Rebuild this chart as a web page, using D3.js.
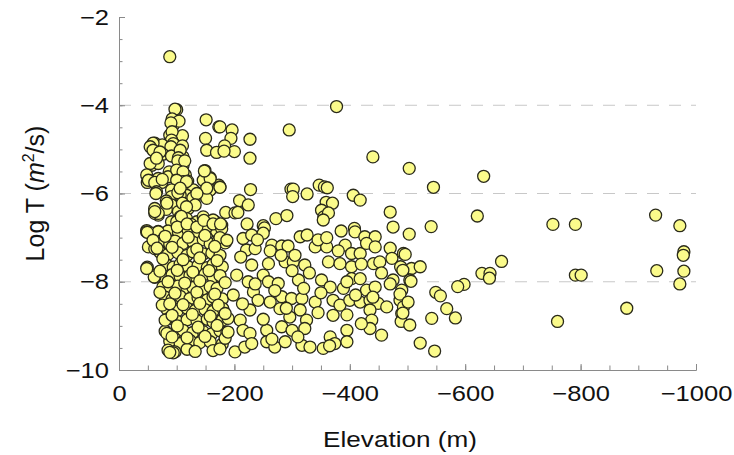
<!DOCTYPE html>
<html>
<head>
<meta charset="utf-8">
<script src="https://cdn.jsdelivr.net/npm/d3@7"></script>
<style>
  body { margin: 0; background: #fff; }
  text { font-family: "Liberation Sans", Arial, Helvetica, sans-serif; fill: #111; }
  .axis path, .axis line { stroke: #8a8a8a; }
  .grid line { stroke: #c8c8c8; stroke-dasharray: 12 10; }
  .dot { fill: #fbfb8b; stroke: #2a2a1a; stroke-width: 1.3; }
</style>
</head>
<body>
<div id="plot"></div>
<script>
// [elevation (m), log T (m2/s)]
const shallowUpper = [
  [-88,-2.90],[-100,-4.10],[-97,-4.09],[-92,-4.31],[-94,-4.45],[-104,-4.36],[-90,-4.40],
  [-88,-4.68],[-110,-4.69],[-92,-4.60],[-91,-4.79],[-94,-4.87],
  [-151,-4.33],[-173,-4.49],[-196,-4.56],[-194,-4.75],[-183,-4.92],[-200,-5.05],[-227,-4.77],[-227,-5.20],[-175,-4.49],
  [-150,-4.75],[-152,-5.02],[-169,-5.07],[-182,-5.04],
  [-62,-4.86],[-75,-4.90],[-90,-4.94],[-110,-4.92],[-59,-4.86],[-54,-4.94],
  [-59,-5.02],[-76,-5.11],[-91,-5.15],[-111,-5.17],[-71,-5.06],[-106,-5.02],
  [-57,-5.36],[-68,-5.32],[-87,-5.51],[-103,-5.19],[-109,-5.27],[-111,-5.36],[-54,-5.32],[-65,-5.20],[-102,-5.26],[-114,-5.26],
  [-48,-5.58],[-57,-5.72],[-49,-5.75],[-68,-5.66],[-74,-5.75],[-85,-5.62],[-102,-5.62],[-115,-5.58],
  [-100,-5.47],[-111,-5.51],[-111,-5.73],[-119,-5.72],[-117,-5.88],[-51,-5.70],[-62,-5.75],[-75,-5.68],
  [-132,-5.96],[-137,-6.02],[-149,-5.48],[-158,-5.64],[-173,-5.81],[-158,-5.92],[-152,-6.11],
  [-146,-5.70],[-158,-5.66],[-175,-5.85],[-152,-5.88],[-148,-5.49],[-129,-5.92],[-100,-5.70],[-117,-5.73],
  [-91,-5.92],[-91,-6.07],[-65,-5.96],[-117,-6.04],[-106,-6.04],[-64,-6.00],[-128,-6.10],[-102,-5.98],[-106,-5.88],[-135,-6.00],
  [-91,-6.26],[-103,-6.41],[-120,-6.34],[-132,-6.26],[-82,-6.17],[-110,-6.22],
  [-65,-6.41],[-68,-6.49],[-62,-6.38],[-62,-6.45],[-82,-6.36],[-62,-6.34],[-83,-6.22],[-117,-6.30],[-106,-6.53],
  [-91,-6.64],[-100,-6.64],[-117,-6.57],[-135,-6.64],[-149,-6.64],[-166,-6.63],[-108,-6.52],[-125,-6.70],
  [-48,-6.84],[-68,-6.86],[-85,-6.85],[-103,-6.88],[-120,-6.84],[-137,-6.87],[-155,-6.88],[-169,-6.85],[-48,-6.87],
  [-57,-6.90],[-68,-6.87],[-146,-6.53],[-163,-6.60],[-178,-6.72],[-152,-6.76],
  [-101,-6.76],[-118,-6.69],[-135,-6.76],[-147,-6.61],[-163,-6.69],[-178,-6.80],
  [-175,-5.86],[-209,-6.16],[-185,-6.43],[-201,-6.44],[-222,-6.69],[-176,-6.69],[-224,-6.26],[-206,-6.43],[-228,-5.91]
];

const shallowLower = [
  [-59,-7.12],[-75,-7.06],[-88,-7.15],[-97,-7.08],[-111,-7.13],[-128,-7.10],[-146,-7.05],[-158,-7.14],[-172,-7.08],[-184,-7.12],
  [-71,-7.33],[-85,-7.38],[-102,-7.34],[-118,-7.40],[-128,-7.32],[-146,-7.37],[-161,-7.35],[-175,-7.40],
  [-83,-7.62],[-94,-7.67],[-106,-7.60],[-120,-7.66],[-137,-7.63],[-153,-7.68],[-163,-7.61],[-179,-7.66],
  [-62,-7.85],[-76,-7.90],[-92,-7.84],[-106,-7.88],[-123,-7.86],[-135,-7.91],[-149,-7.83],[-163,-7.89],[-175,-7.86],
  [-76,-8.12],[-88,-8.17],[-102,-8.10],[-118,-8.16],[-128,-8.13],[-144,-8.18],[-158,-8.11],[-170,-8.15],
  [-80,-8.35],[-92,-8.40],[-106,-8.33],[-123,-8.38],[-137,-8.36],[-153,-8.41],[-163,-8.34],[-179,-8.39],
  [-83,-8.62],[-101,-8.66],[-118,-8.60],[-132,-8.65],[-149,-8.63],[-163,-8.67],[-180,-8.61],
  [-85,-8.84],[-101,-8.90],[-118,-8.86],[-135,-8.88],[-153,-8.85],[-163,-8.91],[-179,-8.87],[-189,-8.83],
  [-80,-9.12],[-97,-9.16],[-111,-9.10],[-128,-9.15],[-146,-9.13],[-161,-9.18],[-175,-9.11],[-187,-9.14],
  [-88,-9.35],[-106,-9.40],[-123,-9.33],[-140,-9.38],[-158,-9.36],[-179,-9.41],
  [-85,-9.55],[-97,-9.59],[-118,-9.53],[-132,-9.58],[-163,-9.56],[-175,-9.52],[-94,-9.61],
  [-49,-6.88],[-59,-7.17],[-49,-7.67],[-62,-7.90],[-71,-8.24],[-75,-8.53],[-80,-8.87],[-83,-9.17],[-88,-9.60],
  [-51,-7.21],[-62,-7.25],[-59,-7.06],[-61,-7.89],[-48,-7.70],[-68,-6.45],[-62,-6.41]
];

const shallowFill = [
  [-80,-6.97],[-120,-6.99],[-149,-6.95],[-175,-7.00],
  [-66,-7.24],[-92,-7.22],[-135,-7.26],[-166,-7.20],
  [-76,-7.48],[-111,-7.50],[-140,-7.46],[-170,-7.52],
  [-71,-7.76],[-101,-7.74],[-128,-7.78],[-156,-7.75],
  [-85,-8.00],[-114,-8.03],[-140,-7.98],[-184,-8.02],
  [-97,-8.26],[-135,-8.24],[-166,-8.28],
  [-88,-8.50],[-111,-8.52],[-140,-8.49],[-172,-8.53],
  [-92,-8.76],[-127,-8.74],[-158,-8.78],
  [-101,-9.00],[-137,-9.03],[-170,-8.99],
  [-92,-9.25],[-118,-9.27],[-149,-9.24],[-184,-9.28]
];

const midDepth = [
  [-377,-4.03],[-295,-4.56],[-440,-5.17],
  [-298,-5.90],[-302,-5.90],[-301,-6.07],[-326,-6.01],
  [-347,-5.81],[-356,-5.85],[-361,-5.87],[-359,-6.20],[-370,-6.22],
  [-351,-6.38],[-355,-6.53],[-363,-6.44],
  [-406,-6.04],[-418,-6.15],[-470,-6.42],[-475,-6.76],
  [-250,-6.73],[-252,-6.78],[-272,-6.57],[-291,-6.50],[-408,-6.79],[-354,-6.60],
  [-187,-7.06],[-215,-7.02],[-230,-6.94],[-250,-6.90],[-265,-7.17],[-282,-7.19],[-293,-7.19],
  [-314,-6.98],[-326,-6.94],[-409,-6.87],[-426,-6.98],[-444,-6.98],
  [-221,-7.28],[-236,-7.25],[-340,-7.21],[-360,-7.21],[-392,-7.17],[-403,-7.36],[-418,-7.36],
  [-429,-7.13],[-444,-7.21],[-470,-7.24],[-493,-7.36],[-211,-7.44],
  [-230,-7.62],[-259,-7.59],[-288,-7.55],[-302,-7.55],[-322,-7.62],[-363,-7.55],[-383,-7.59],
  [-403,-7.66],[-441,-7.59],[-452,-7.55],[-473,-7.47],[-490,-7.70],[-507,-7.70],
  [-204,-7.85],[-224,-8.00],[-250,-7.85],[-259,-8.00],[-276,-8.04],[-311,-7.96],[-351,-7.96],
  [-366,-8.12],[-389,-8.15],[-403,-7.93],[-418,-7.93],[-429,-8.19],[-444,-8.12],[-475,-7.96],
  [-490,-8.19],[-504,-7.96],
  [-198,-8.30],[-233,-8.23],[-241,-8.42],[-262,-8.46],[-282,-8.34],[-299,-8.38],[-317,-8.38],
  [-340,-8.46],[-371,-8.42],[-383,-8.53],[-400,-8.42],[-418,-8.46],[-435,-8.42],[-449,-8.49],
  [-464,-8.57],[-487,-8.42],
  [-184,-8.72],[-210,-8.87],[-227,-8.64],[-279,-8.61],[-296,-8.80],[-314,-8.64],[-325,-8.87],
  [-371,-8.76],[-435,-8.64],[-438,-8.87],[-490,-8.72],
  [-189,-9.14],[-215,-9.10],[-227,-9.17],[-256,-9.10],[-282,-9.02],[-300,-9.10],[-322,-9.06],
  [-366,-9.25],[-395,-9.10],[-435,-9.06],[-455,-9.21],
  [-201,-9.59],[-218,-9.48],[-256,-9.36],[-270,-9.48],[-288,-9.36],[-317,-9.44],[-331,-9.48],
  [-354,-9.51],[-374,-9.40],[-395,-9.36]
];

const midFill = [
  [-240,-7.05],[-262,-7.30],[-305,-7.40],[-330,-7.80],[-345,-7.05],[-380,-7.30],[-420,-7.60],
  [-455,-7.80],[-300,-7.75],[-270,-8.20],[-320,-8.15],[-350,-8.25],[-395,-8.00],[-410,-8.30],
  [-440,-8.35],[-470,-8.05],[-290,-8.60],[-345,-8.70],[-395,-8.75],[-420,-8.95],[-250,-8.85],
  [-265,-9.30],[-310,-9.25],[-365,-9.45],[-230,-9.40],[-214,-8.50],[-236,-8.05],[-281,-7.40],
  [-360,-7.00],[-385,-6.85],[-488,-7.66],[-487,-8.28],[-493,-8.57],[-489,-8.90]
];

const deep = [
  [-503,-5.43],[-545,-5.86],[-632,-5.61],[-621,-6.51],[-541,-6.75],[-503,-6.92],[-496,-7.38],
  [-752,-6.70],[-791,-6.70],[-930,-6.49],[-972,-6.73],[-979,-7.32],[-978,-7.40],[-979,-7.76],
  [-972,-8.05],[-932,-7.75],[-791,-7.85],[-801,-7.85],[-880,-8.60],[-760,-8.90],
  [-663,-7.54],[-629,-7.81],[-643,-7.81],[-642,-7.92],[-598,-8.06],[-587,-8.11],[-549,-8.24],
  [-557,-8.32],[-568,-8.61],[-583,-8.82],[-542,-8.83],[-504,-8.98],[-522,-9.39],[-547,-9.57],
  [-522,-7.66],[-506,-7.99],[-501,-8.46],[-492,-7.74],[-492,-8.71]
];

const yTicks = [-10, -8, -6, -4, -2];
const yMinor = d3.range(-10, -1.99, 0.5);
const xTicks = [0, -200, -400, -600, -800, -1000];
const xMinor = d3.range(0, -1001, -50);
const gridValues = [-8, -6, -4];

const margin = {top: 17, right: 38, bottom: 85, left: 119};
const width = 734 - margin.left - margin.right;
const height = 455 - margin.top - margin.bottom;

const x = d3.scaleLinear().domain([0, -1000]).range([0, width]);
const y = d3.scaleLinear().domain([-10, -2]).range([height, 0]);

const svg = d3.select("#plot").append("svg")
    .attr("width", 734)
    .attr("height", 455);

const g = svg.append("g")
    .attr("transform", "translate(" + margin.left + "," + margin.top + ")");

// dashed grid
g.append("g")
    .attr("class", "grid")
    .selectAll("line")
    .data(gridValues)
    .enter().append("line")
    .attr("x1", 0)
    .attr("x2", width)
    .attr("y1", d => y(d))
    .attr("y2", d => y(d));

// minor ticks
g.append("g")
    .attr("class", "axis")
    .call(d3.axisLeft(y).tickValues(yMinor).tickSize(-3.5).tickSizeOuter(0).tickFormat(""));
g.append("g")
    .attr("class", "axis")
    .attr("transform", "translate(0," + height + ")")
    .call(d3.axisBottom(x).tickValues(xMinor).tickSize(-4.5).tickSizeOuter(0).tickFormat(""));

// major ticks + labels
g.append("g")
    .attr("class", "axis")
    .call(d3.axisLeft(y).tickValues(yTicks).tickSize(-6).tickSizeOuter(0).tickPadding(10)
      .tickFormat(d3.format("d")));
g.append("g")
    .attr("class", "axis")
    .attr("transform", "translate(0," + height + ")")
    .call(d3.axisBottom(x).tickValues(xTicks).tickSize(-6).tickSizeOuter(0).tickPadding(15)
      .tickFormat(d3.format("d")));

svg.selectAll(".axis text")
    .attr("font-size", 22)
    .style("font-family", "'Liberation Sans', Arial, sans-serif")
    .attr("fill", "#111");

const allPoints = shallowUpper.concat(shallowLower, shallowFill, midDepth, midFill, deep);

g.append("g")
    .selectAll("circle")
    .data(allPoints)
    .enter().append("circle")
    .attr("class", "dot")
    .attr("cx", d => x(d[0]))
    .attr("cy", d => y(d[1]))
    .attr("r", 6);

// X axis title
svg.append("text")
    .attr("class", "title")
    .attr("text-anchor", "middle")
    .attr("x", 400)
    .attr("y", 447)
    .attr("font-size", 22.5)
    .text("Elevation (m)");

// Y axis title
const yTitle = svg.append("text")
    .attr("text-anchor", "middle")
    .attr("transform", "translate(44," + (margin.top + height / 2) + ") rotate(-90)")
    .attr("font-size", 25);
yTitle.append("tspan").text("Log T (");
yTitle.append("tspan").attr("font-style", "italic").text("m");
yTitle.append("tspan").attr("font-size", 16).attr("dy", -10).text("2");
yTitle.append("tspan").attr("dy", 10).text("/s)");

// the source picture is a little wider than tall: stretch the horizontal labels
svg.selectAll(".axis text, .title").each(function() {
  const w = this.getComputedTextLength();
  if (w > 0) {
    this.setAttribute("textLength", w * 1.16);
    this.setAttribute("lengthAdjust", "spacingAndGlyphs");
  }
});
</script>
</body>
</html>
